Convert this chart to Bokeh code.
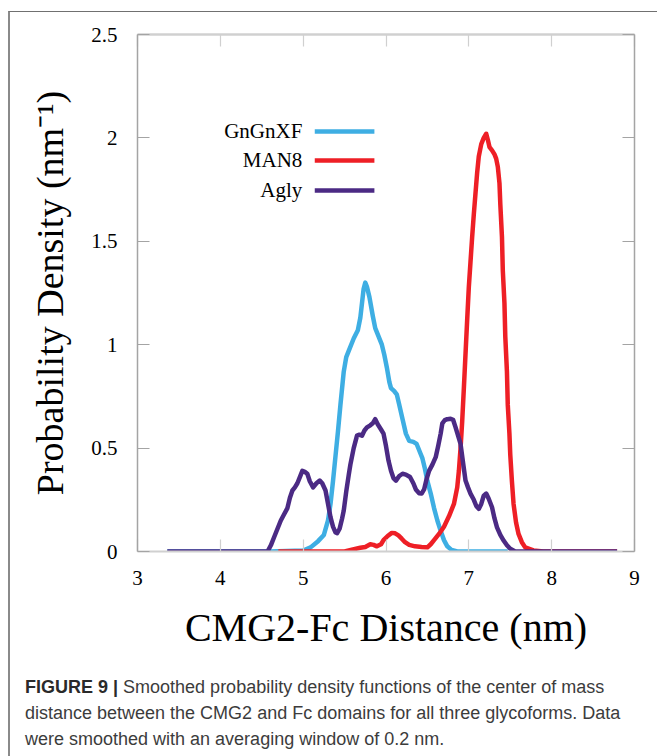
from bokeh.plotting import figure
from bokeh.models import (LinearAxis, FixedTicker, NumeralTickFormatter, CustomJSTickFormatter,
                          Label, Div, Range1d, ColumnDataSource)
from bokeh.layouts import column
from bokeh.embed import file_html
from bokeh.resources import INLINE

# ---------------- data ----------------
gngnxf_x = [3.36, 4.60, 5.00, 5.09, 5.18, 5.25, 5.30, 5.33, 5.36, 5.39, 5.42, 5.45, 5.49, 5.52,
            5.55, 5.61, 5.66, 5.69, 5.71, 5.73, 5.75, 5.77, 5.80, 5.84, 5.87, 5.91, 5.95, 5.98,
            6.01, 6.04, 6.06, 6.10, 6.13, 6.16, 6.20, 6.24, 6.28, 6.33, 6.37, 6.41, 6.44, 6.47,
            6.50, 6.54, 6.58, 6.62, 6.66, 6.70, 6.74, 6.79, 6.86, 7.47]
gngnxf_y = [0.0, 0.0, 0.005, 0.02, 0.05, 0.08, 0.15, 0.23, 0.34, 0.46, 0.58, 0.71, 0.87, 0.94,
            0.97, 1.03, 1.07, 1.13, 1.20, 1.27, 1.30, 1.28, 1.23, 1.14, 1.08, 1.04, 1.00, 0.95,
            0.89, 0.82, 0.79, 0.775, 0.76, 0.71, 0.64, 0.57, 0.535, 0.53, 0.52, 0.48, 0.45, 0.40,
            0.34, 0.28, 0.21, 0.15, 0.10, 0.055, 0.025, 0.008, 0.0, 0.0]

man8_x = [4.70, 5.50, 5.60, 5.69, 5.75, 5.81, 5.85, 5.89, 5.94, 5.97, 6.02, 6.07, 6.11, 6.15,
          6.19, 6.23, 6.28, 6.35, 6.43, 6.50, 6.54, 6.58, 6.64, 6.70, 6.76, 6.82, 6.86, 6.88,
          6.90, 6.92, 6.94, 6.96, 6.98, 7.00, 7.02, 7.04, 7.06, 7.08, 7.10, 7.12, 7.15, 7.18,
          7.21, 7.23, 7.25, 7.28, 7.31, 7.33, 7.35, 7.37, 7.38, 7.40, 7.41, 7.43, 7.44, 7.46,
          7.47, 7.49, 7.50, 7.52, 7.54, 7.57, 7.60, 7.64, 7.68, 7.78, 7.90, 8.79]
man8_y = [0.0, 0.0, 0.01, 0.018, 0.022, 0.035, 0.032, 0.025, 0.035, 0.055, 0.075, 0.09, 0.088,
          0.078, 0.062, 0.045, 0.032, 0.025, 0.022, 0.02, 0.035, 0.055, 0.085, 0.12, 0.17, 0.23,
          0.31, 0.39, 0.50, 0.63, 0.79, 0.956, 1.12, 1.28, 1.40, 1.52, 1.63, 1.73, 1.83, 1.91,
          1.97, 2.00, 2.02, 1.99, 1.955, 1.94, 1.92, 1.90, 1.86, 1.78, 1.68, 1.52, 1.36, 1.20,
          1.04, 0.87, 0.71, 0.57, 0.47, 0.34, 0.23, 0.14, 0.085, 0.045, 0.02, 0.005, 0.0, 0.0]

agly_x = [3.36, 4.57, 4.61, 4.65, 4.69, 4.73, 4.77, 4.81, 4.84, 4.87, 4.90, 4.93, 4.96, 4.99,
          5.02, 5.05, 5.08, 5.12, 5.16, 5.20, 5.23, 5.27, 5.30, 5.33, 5.36, 5.39, 5.41, 5.44,
          5.47, 5.49, 5.52, 5.55, 5.57, 5.61, 5.65, 5.68, 5.71, 5.74, 5.77, 5.81, 5.84, 5.87,
          5.90, 5.94, 5.97, 6.00, 6.03, 6.06, 6.09, 6.12, 6.16, 6.20, 6.24, 6.29, 6.33, 6.36,
          6.40, 6.43, 6.46, 6.49, 6.52, 6.56, 6.60, 6.63, 6.66, 6.68, 6.71, 6.74, 6.78, 6.81,
          6.84, 6.87, 6.90, 6.93, 6.96, 6.99, 7.02, 7.06, 7.09, 7.12, 7.15, 7.18, 7.21, 7.24,
          7.28, 7.31, 7.34, 7.38, 7.42, 7.46, 7.50, 7.56, 8.79]
agly_y = [0.0, 0.0, 0.03, 0.07, 0.11, 0.15, 0.18, 0.21, 0.26, 0.295, 0.31, 0.33, 0.36, 0.39,
          0.385, 0.376, 0.34, 0.31, 0.33, 0.343, 0.33, 0.295, 0.23, 0.166, 0.12, 0.092, 0.089,
          0.11, 0.16, 0.198, 0.29, 0.37, 0.42, 0.50, 0.56, 0.565, 0.56, 0.585, 0.60, 0.61,
          0.62, 0.64, 0.615, 0.59, 0.57, 0.51, 0.44, 0.39, 0.355, 0.343, 0.365, 0.376, 0.372,
          0.36, 0.33, 0.30, 0.282, 0.28, 0.30, 0.35, 0.39, 0.42, 0.456, 0.51, 0.57, 0.62,
          0.635, 0.64, 0.642, 0.637, 0.60, 0.56, 0.52, 0.43, 0.343, 0.31, 0.28, 0.25, 0.22,
          0.206, 0.23, 0.27, 0.28, 0.255, 0.214, 0.16, 0.117, 0.08, 0.053, 0.03, 0.013, 0.0, 0.0]

series_names = ["GnGnXF", "MAN8", "Agly"]
series_colors = ["#3eaee3", "#ee1f26", "#4b2a84"]

x_ticks = [3, 4, 5, 6, 7, 8, 9]
y_ticks = [0, 0.5, 1, 1.5, 2, 2.5]

x_title = "CMG2-Fc Distance (nm)"
y_title = "Probability Density (nm\u207b\u00b9)"
caption_bold = "FIGURE 9 |"
caption_lines = ["Smoothed probability density functions of the center of mass",
                 "distance between the CMG2 and Fc domains for all three glycoforms. Data",
                 "were smoothed with an averaging window of 0.2 nm."]

# ---------------- styling ----------------
SERIF = "Liberation Serif"
DARK_AX = "#a4a4a4"
LIGHT_AX = "#d0d0d0"

p = figure(width=639, height=650, x_range=Range1d(3, 9), y_range=Range1d(0, 2.5),
           output_backend="svg", toolbar_location=None,
           x_axis_location=None, y_axis_location=None,
           min_border_left=127, min_border_right=15, min_border_top=22, min_border_bottom=111,
           outline_line_color=None, background_fill_color="white", border_fill_color="white")
p.xgrid.visible = False
p.ygrid.visible = False


def mk_axis(ticks, color, labels=True, **kw):
    ax = LinearAxis(ticker=FixedTicker(ticks=ticks), formatter=NumeralTickFormatter(format="0.[0]"),
                    major_tick_in=12, major_tick_out=0, minor_tick_in=0, minor_tick_out=0,
                    axis_line_color=color, axis_line_width=1.5,
                    major_tick_line_color=color, major_tick_line_width=1.2,
                    major_label_text_font=SERIF, major_label_text_font_size="21px",
                    major_label_text_color="black", **kw)
    if not labels:
        ax.formatter = CustomJSTickFormatter(code="return ''")
        ax.major_label_text_font_size = "1px"
        ax.major_label_text_color = None
        ax.major_label_standoff = 0
    return ax


left = mk_axis(y_ticks, DARK_AX, axis_label=y_title, axis_label_text_font=SERIF,
               axis_label_text_font_size="38px", axis_label_text_font_style="normal",
               axis_label_text_color="black", major_label_standoff=20, axis_label_standoff=17)
bottom = mk_axis(x_ticks, LIGHT_AX, axis_label=x_title, axis_label_text_font=SERIF,
                 axis_label_text_font_size="40px", axis_label_text_font_style="normal",
                 axis_label_text_color="black", major_label_standoff=19, axis_label_standoff=17)
bottom.axis_line_width = 2
right = mk_axis(y_ticks, DARK_AX, labels=False)
top = mk_axis(x_ticks, LIGHT_AX, labels=False)
top.axis_line_width = 2.5
p.add_layout(left, "left")
p.add_layout(bottom, "below")
p.add_layout(right, "right")
p.add_layout(top, "above")

for xs, ys, c in [(gngnxf_x, gngnxf_y, series_colors[0]),
                  (man8_x, man8_y, series_colors[1]),
                  (agly_x, agly_y, series_colors[2])]:
    p.line(xs, ys, line_color=c, line_width=4.5, line_join="round", line_cap="butt")

# ---------------- legend (label left, key line right) ----------------
leg_text_x = 4.99
leg_line_x0, leg_line_x1 = 5.14, 5.86
leg_rows = [2.031, 1.891, 1.746]
for name, c, yy in zip(series_names, series_colors, leg_rows):
    p.add_layout(Label(x=leg_text_x, y=yy, text=name, text_align="right",
                       text_baseline="middle", text_font=SERIF, text_font_size="21px",
                       text_color="black"))
leg_src = ColumnDataSource(dict(x0=[leg_line_x0] * 3, x1=[leg_line_x1] * 3,
                                y=leg_rows, c=series_colors))
p.segment(x0="x0", y0="y", x1="x1", y1="y", color="c", line_width=4.5, source=leg_src)

cap_html = ('<div style="font-family: \'Liberation Sans\', sans-serif; font-size: 18px; '
            'color: #3c3c3c; line-height: 26px; padding-left: 10px; padding-top: 7px; '
            'white-space: nowrap;">'
            '<b style="color:#2a2a2a">' + caption_bold + '</b> ' + '<br>'.join(caption_lines) +
            '</div>')
cap = Div(text=cap_html, width=639, height=92)

layout = column(p, cap, styles={"border-top": "1px solid #707070",
                                "border-left": "2px solid #8a8a8a",
                                "margin-top": "11px", "margin-left": "8px"})

open("out.html", "w").write(file_html(layout, INLINE))
